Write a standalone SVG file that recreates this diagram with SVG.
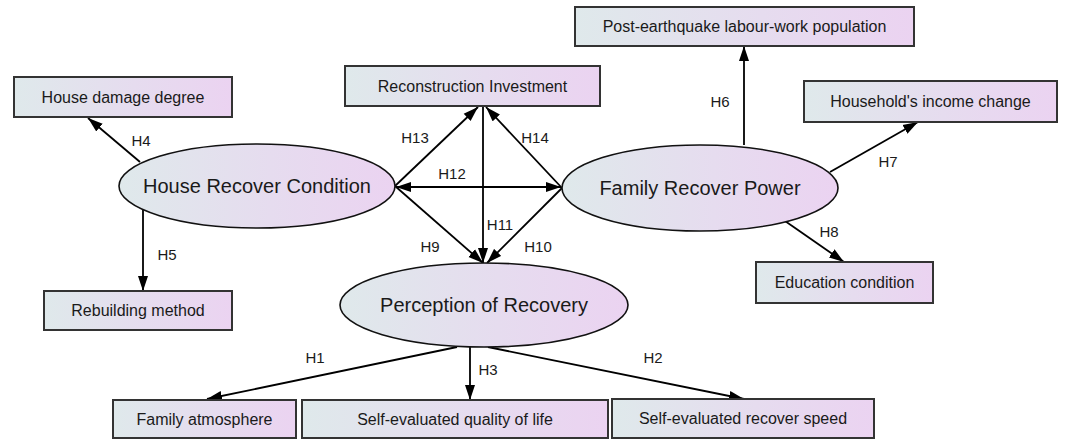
<svg xmlns="http://www.w3.org/2000/svg" width="1066" height="440" viewBox="0 0 1066 440">
<defs>
<linearGradient id="g" x1="0" y1="0" x2="1" y2="0">
<stop offset="0" stop-color="#dfe9eb"/>
<stop offset="0.55" stop-color="#e6dcef"/>
<stop offset="1" stop-color="#ebd3f1"/>
</linearGradient>
<marker id="a" markerUnits="userSpaceOnUse" markerWidth="16" markerHeight="11" refX="15" refY="5.5" orient="auto-start-reverse">
<path d="M0,0.5 L15,5.5 L0,10.5 z" fill="#000"/>
</marker>
<style>
.box{fill:url(#g);stroke:#333;stroke-width:2}
.ell{fill:url(#g);stroke:#111;stroke-width:1.6}
.bt{font-family:"Liberation Sans",Arial,sans-serif;font-size:16px;fill:#1a1a1a;text-anchor:middle}
.et{font-family:"Liberation Sans",Arial,sans-serif;font-size:20px;fill:#1a1a1a;text-anchor:middle}
.lb{font-family:"Liberation Sans",Arial,sans-serif;font-size:15px;fill:#1a1a1a;text-anchor:middle}
.c{stroke:#000;stroke-width:1.8;fill:none;marker-end:url(#a)}
</style>
</defs>
<rect width="1066" height="440" fill="#fff"/>
<g id="connectors">
<line class="c" x1="140" y1="162" x2="88" y2="118"/>
<line class="c" x1="143" y1="210" x2="143" y2="291"/>
<line class="c" x1="395" y1="186" x2="478" y2="107"/>
<line class="c" x1="395" y1="186" x2="483" y2="263"/>
<line class="c" x1="562" y1="188" x2="486" y2="107"/>
<line class="c" x1="562" y1="188" x2="487" y2="263"/>
<line class="c" x1="483" y1="107" x2="483" y2="263"/>
<line class="c" x1="396" y1="187" x2="561" y2="187" marker-start="url(#a)"/>
<line class="c" x1="744" y1="145" x2="744" y2="46"/>
<line class="c" x1="830" y1="172" x2="918" y2="122"/>
<line class="c" x1="785" y1="221" x2="844" y2="262"/>
<line class="c" x1="457" y1="347" x2="207" y2="399"/>
<line class="c" x1="470" y1="347" x2="470" y2="400"/>
<line class="c" x1="488" y1="347" x2="744" y2="399"/>
<text class="lb" x="141" y="146">H4</text>
<text class="lb" x="167" y="260">H5</text>
<text class="lb" x="415" y="143">H13</text>
<text class="lb" x="535" y="143">H14</text>
<text class="lb" x="452" y="179">H12</text>
<text class="lb" x="500" y="230">H11</text>
<text class="lb" x="430" y="252">H9</text>
<text class="lb" x="538" y="252">H10</text>
<text class="lb" x="720" y="107">H6</text>
<text class="lb" x="888" y="167">H7</text>
<text class="lb" x="829" y="237">H8</text>
<text class="lb" x="315" y="363">H1</text>
<text class="lb" x="488" y="375">H3</text>
<text class="lb" x="653" y="363">H2</text>
</g>
<g id="house-damage"><rect class="box" x="14" y="77" width="218" height="40"/><text class="bt" x="123" y="102.5">House damage degree</text></g>
<g id="reconstruction"><rect class="box" x="345" y="66" width="255" height="40"/><text class="bt" x="472.5" y="91.5">Reconstruction Investment</text></g>
<g id="post-earthquake"><rect class="box" x="575" y="7" width="339" height="39"/><text class="bt" x="744.5" y="32">Post-earthquake labour-work population</text></g>
<g id="income"><rect class="box" x="804" y="81" width="253" height="41"/><text class="bt" x="930.5" y="107">Household's income change</text></g>
<g id="rebuilding"><rect class="box" x="44" y="291" width="188" height="39"/><text class="bt" x="138" y="316">Rebuilding method</text></g>
<g id="education"><rect class="box" x="756" y="262" width="177" height="41"/><text class="bt" x="844.5" y="288">Education condition</text></g>
<g id="family-atmosphere"><rect class="box" x="113" y="400" width="183" height="38"/><text class="bt" x="204.5" y="424.5">Family atmosphere</text></g>
<g id="quality-of-life"><rect class="box" x="302" y="400" width="306" height="38"/><text class="bt" x="455" y="424.5">Self-evaluated quality of life</text></g>
<g id="recover-speed"><rect class="box" x="612" y="399" width="262" height="39"/><text class="bt" x="743" y="424">Self-evaluated recover speed</text></g>
<g id="house-recover"><ellipse class="ell" cx="257" cy="186" rx="138" ry="42"/><text class="et" x="257" y="193">House Recover Condition</text></g>
<g id="family-recover"><ellipse class="ell" cx="700" cy="188" rx="138" ry="43"/><text class="et" x="700" y="195">Family Recover Power</text></g>
<g id="perception"><ellipse class="ell" cx="484" cy="305" rx="144" ry="42"/><text class="et" x="484" y="312">Perception of Recovery</text></g>
</svg>
